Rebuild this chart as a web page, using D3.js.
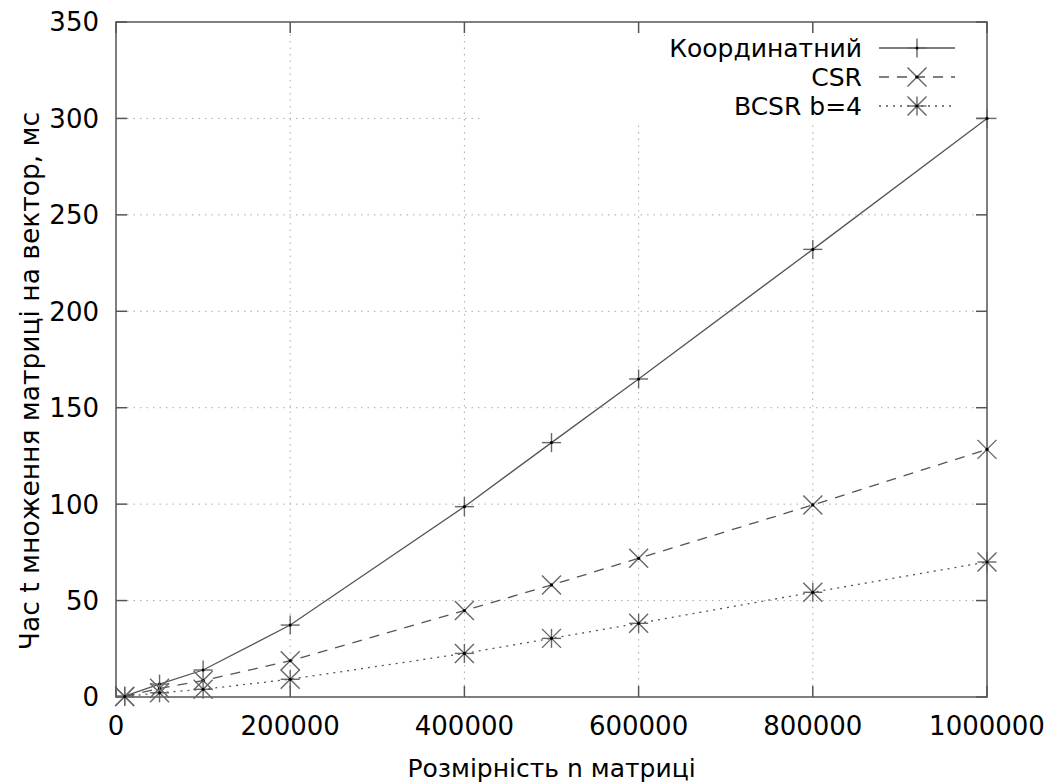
<!DOCTYPE html>
<html>
<head>
<meta charset="utf-8">
<script src="https://cdn.jsdelivr.net/npm/d3@7"></script>
<style>
  body { margin: 0; background: #fff; }
  svg { display: block; font-family: "DejaVu Sans", sans-serif; }
</style>
</head>
<body>
<svg width="1046" height="784"></svg>
<script>
// ---- Дані
const sizes = [10000, 50000, 100000, 200000, 400000, 500000, 600000, 800000, 1000000];
const coordTimes = [0.5, 6.7, 14.0, 37.3, 98.7, 131.9, 164.9, 232.1, 300.0];
const csrTimes = [0.3, 4.5, 8.5, 18.8, 44.8, 58.1, 71.9, 99.6, 128.4];
const bcsrTimes = [0.2, 2.2, 4.0, 9.2, 22.6, 30.4, 38.2, 54.3, 70.0];

const seriesNames = ['Координатний', 'CSR', 'BCSR b=4'];
const xTicks = [0, 200000, 400000, 600000, 800000, 1000000];
const yTicks = [0, 50, 100, 150, 200, 250, 300, 350];

const xLabel = 'Розмірність n матриці';
const yLabel = 'Час t множення матриці на вектор, мс';

const series = [
    { name: seriesNames[0], values: coordTimes, dash: null, marker: 'plus' },
    { name: seriesNames[1], values: csrTimes, dash: '10,8', marker: 'cross' },
    { name: seriesNames[2], values: bcsrTimes, dash: '2,5', marker: 'star' }
];

const svg = d3.select('svg');
const margens = { left: 116, right: 59, top: 22, bottom: 87 };
const width = 1046 - margens.left - margens.right;
const height = 784 - margens.top - margens.bottom;

const x = d3.scaleLinear().domain([0, 1000000]).range([margens.left, margens.left + width]);
const y = d3.scaleLinear().domain([0, 350]).range([margens.top + height, margens.top]);

const tickLen = 11;
const axisColor = '#555';
const fontSize = 26;

// ---- Сітка
const grid = svg.append('g').attr('class', 'grid')
    .attr('stroke', '#aaa').attr('stroke-width', 1).attr('stroke-dasharray', '1.5,5');

grid.selectAll('line.gy')
    .data(yTicks.slice(1, -1))
    .join('line')
    .attr('x1', x(0) + tickLen).attr('x2', x(1000000) - tickLen)
    .attr('y1', d => y(d)).attr('y2', d => y(d));

grid.selectAll('line.gx')
    .data(xTicks.slice(1, -1))
    .join('line')
    .attr('x1', d => x(d)).attr('x2', d => x(d))
    .attr('y1', y(0) - tickLen).attr('y2', y(350) + tickLen);

// ---- Легенда (непрозорий фон)
svg.append('rect')
    .attr('x', 480).attr('y', y(350))
    .attr('width', x(1000000) - 480).attr('height', 99)
    .attr('fill', '#fff');

// ---- Рамка і поділки
const frame = svg.append('g').attr('stroke', axisColor).attr('stroke-width', 1.5);
frame.append('rect')
    .attr('x', x(0)).attr('y', y(350))
    .attr('width', width).attr('height', height)
    .attr('fill', 'none');

yTicks.forEach(t => {
    frame.append('line').attr('x1', x(0)).attr('x2', x(0) + tickLen).attr('y1', y(t)).attr('y2', y(t));
    frame.append('line').attr('x1', x(1000000)).attr('x2', x(1000000) - tickLen).attr('y1', y(t)).attr('y2', y(t));
});
xTicks.forEach(t => {
    frame.append('line').attr('x1', x(t)).attr('x2', x(t)).attr('y1', y(0)).attr('y2', y(0) - tickLen);
    frame.append('line').attr('x1', x(t)).attr('x2', x(t)).attr('y1', y(350)).attr('y2', y(350) + tickLen);
});

// ---- Підписи осей
svg.append('g')
    .selectAll('text')
    .data(yTicks)
    .join('text')
    .attr('x', x(0) - 17)
    .attr('y', d => y(d))
    .attr('dy', '0.36em')
    .attr('text-anchor', 'end')
    .attr('font-size', fontSize)
    .text(d => d);

svg.append('g')
    .selectAll('text')
    .data(xTicks)
    .join('text')
    .attr('x', d => x(d))
    .attr('y', 735)
    .attr('text-anchor', 'middle')
    .attr('font-size', fontSize)
    .text(d => d);

svg.append('text')
    .attr('x', x(500000)).attr('y', 777)
    .attr('text-anchor', 'middle')
    .attr('font-size', 25)
    .text(xLabel);

svg.append('text')
    .attr('transform', 'translate(39, 381) rotate(-90)')
    .attr('text-anchor', 'middle')
    .attr('font-size', 26.5)
    .text(yLabel);

// ---- Маркери
const mSize = 9.5;
function drawMarker(g, type, cx, cy) {
    const m = g.append('g').attr('transform', `translate(${cx},${cy})`)
        .attr('stroke', '#666').attr('stroke-width', 1.4);
    if (type === 'plus' || type === 'star') {
        m.append('line').attr('x1', -mSize).attr('x2', mSize).attr('y1', 0).attr('y2', 0);
        m.append('line').attr('x1', 0).attr('x2', 0).attr('y1', -mSize).attr('y2', mSize);
    }
    if (type === 'cross' || type === 'star') {
        const c = mSize;
        m.append('line').attr('x1', -c).attr('x2', c).attr('y1', -c).attr('y2', c);
        m.append('line').attr('x1', -c).attr('x2', c).attr('y1', c).attr('y2', -c);
    }
    m.append('circle').attr('r', 1.6).attr('fill', '#000').attr('stroke', 'none');
}

// ---- Лінії даних
const line = d3.line()
    .x((d, i) => x(sizes[i]))
    .y(d => y(d));

const plot = svg.append('g');
series.forEach(s => {
    plot.append('path')
        .attr('d', line(s.values))
        .attr('fill', 'none')
        .attr('stroke', '#555')
        .attr('stroke-width', 1.3)
        .attr('stroke-dasharray', s.dash);
    s.values.forEach((v, i) => drawMarker(plot, s.marker, x(sizes[i]), y(v)));
});

// ---- Легенда
const legend = svg.append('g');
series.forEach((s, i) => {
    const ly = 48 + i * 29;
    legend.append('text')
        .attr('x', 862).attr('y', ly)
        .attr('dy', '0.36em')
        .attr('text-anchor', 'end')
        .attr('font-size', 25)
        .text(s.name);
    legend.append('line')
        .attr('x1', 879).attr('x2', 955)
        .attr('y1', ly).attr('y2', ly)
        .attr('stroke', '#555').attr('stroke-width', 1.3)
        .attr('stroke-dasharray', s.dash);
    drawMarker(legend, s.marker, 917, ly);
});
</script>
</body>
</html>
